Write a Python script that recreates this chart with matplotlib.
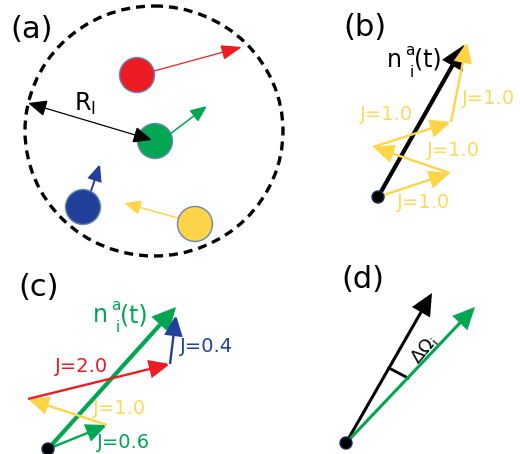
import matplotlib.pyplot as plt
from matplotlib.patches import Circle, Ellipse, FancyArrowPatch

RED = '#ED1C24'
GREEN = '#00A651'
BLUE = '#21409A'
YELLOW = '#FFD447'
YELLOW_TXT = '#FFD95A'

# (a) particles inside the interaction radius: centre, velocity tip
part_colors = [RED, GREEN, BLUE, YELLOW]
part_x = [137, 155, 83, 195]
part_y = [75, 141, 207, 224]
vel_start = [(154, 71), (170, 134), (91, 191), (178, 218)]
vel_end = [(242, 47), (207, 106), (100, 164), (124, 203)]

# (b) sum of equal-weight neighbour orientations
b_origin = (378, 197)
b_chain = [(378, 197), (450, 173), (373, 147), (451, 122), (467, 42)]
b_J = ['J=1.0', 'J=1.0', 'J=1.0', 'J=1.0']
b_label_pos = [(397, 202), (427, 150), (360, 115), (462, 98)]

# (c) weighted sum with different couplings
c_origin = (48, 449)
c_chain = [(48, 449), (107, 425), (28, 399), (170, 364), (176, 315)]
c_colors = [GREEN, YELLOW, RED, BLUE]
c_txt_colors = [GREEN, YELLOW_TXT, RED, BLUE]
c_J = ['J=0.6', 'J=1.0', 'J=2.0', 'J=0.4']
c_label_pos = [(97, 443), (93, 408), (55, 366), (180, 346)]

# (d) angle between current and target orientation
d_origin = (346, 443)
d_black_tip = (432, 293)
d_green_tip = (475, 307)

PX = 72 / 100  # pixels -> points


def arrow(ax, p, q, color, lw, hl, hw, style='-|>'):
    a = FancyArrowPatch(p, q, arrowstyle=f'{style},head_length={hl * PX},head_width={hw * PX / 2}',
                        mutation_scale=1, lw=lw, color=color, shrinkA=0, shrinkB=0,
                        joinstyle='miter', capstyle='butt', zorder=4)
    ax.add_patch(a)


def dot(ax, p):
    ax.add_patch(Circle(p, 6, facecolor='black', edgecolor='#1B2E55', lw=1, zorder=5))


def n_label(ax, x, base, color):
    # n with staggered super/subscript, then (t)
    ax.text(x, base, 'n', fontsize=17, color=color, va='baseline', ha='left')
    ax.text(x + 18, base - 12, 'a', fontsize=11, color=color, va='baseline', ha='left')
    ax.text(x + 23, base + 10, 'i', fontsize=11, color=color, va='baseline', ha='left')
    ax.text(x + 27, base, '(t)', fontsize=17, color=color, va='baseline', ha='left')


fig = plt.figure(figsize=(5.2, 4.54), dpi=100)
ax = fig.add_axes([0, 0, 1, 1])
ax.set_xlim(0, 520)
ax.set_ylim(454, 0)
ax.axis('off')

# panel (a)
ax.add_patch(Ellipse((154, 131), 258, 250, fill=False, ec='black', lw=2.4, ls=(0, (2.7, 1.8))))
for c, x, y in zip(part_colors, part_x, part_y):
    ax.add_patch(Circle((x, y), 17.5, facecolor=c, edgecolor='#6A86B0', lw=1, zorder=3))
arrow(ax, vel_start[0], vel_end[0], RED, 0.9, 18, 13)
arrow(ax, vel_start[1], vel_end[1], GREEN, 1.1, 14, 12)
arrow(ax, vel_start[2], vel_end[2], BLUE, 1.4, 14, 12)
arrow(ax, vel_start[3], vel_end[3], YELLOW, 1.1, 14, 12)
arrow(ax, (28, 103), (152, 140), 'black', 0.9, 16, 14, style='<|-|>')
ax.text(74, 104, r'$\mathregular{R_I}$', fontsize=17, va='center', ha='left')

# panel (b)
arrow(ax, b_origin, (464, 45), 'black', 3, 17, 17)
for i in range(len(b_chain) - 1):
    arrow(ax, b_chain[i], b_chain[i + 1], YELLOW, 1.7, 17, 15)
for t, (x, y) in zip(b_J, b_label_pos):
    ax.text(x, y, t, color=YELLOW_TXT, fontsize=14, va='center', ha='left')
n_label(ax, 387, 67, 'black')
dot(ax, b_origin)

# panel (c)
arrow(ax, c_origin, (176, 307), GREEN, 3, 17, 17)
for i in range(len(c_chain) - 1):
    arrow(ax, c_chain[i], c_chain[i + 1], c_colors[i], 1.7, 17, 15)
for t, col, (x, y) in zip(c_J, c_txt_colors, c_label_pos):
    ax.text(x, y, t, color=col, fontsize=14, va='center', ha='left')
n_label(ax, 93, 322, GREEN)
dot(ax, c_origin)

# panel (d)
arrow(ax, d_origin, d_black_tip, 'black', 2.2, 17, 16)
arrow(ax, d_origin, d_green_tip, GREEN, 2.2, 17, 16)
ax.plot([389, 408], [368, 378], color='black', lw=2)
ax.text(424, 350, r'$\mathregular{\Delta\Omega_i}$', fontsize=13, rotation=50,
        va='center', ha='center')
dot(ax, d_origin)

# panel letters
for t, (x, y) in zip(['(a)', '(b)', '(c)', '(d)'], [(10, 29), (343, 28), (18, 287), (341, 280)]):
    ax.text(x, y, t, fontsize=22, va='center', ha='left')

fig.savefig('out.png', dpi=100)
